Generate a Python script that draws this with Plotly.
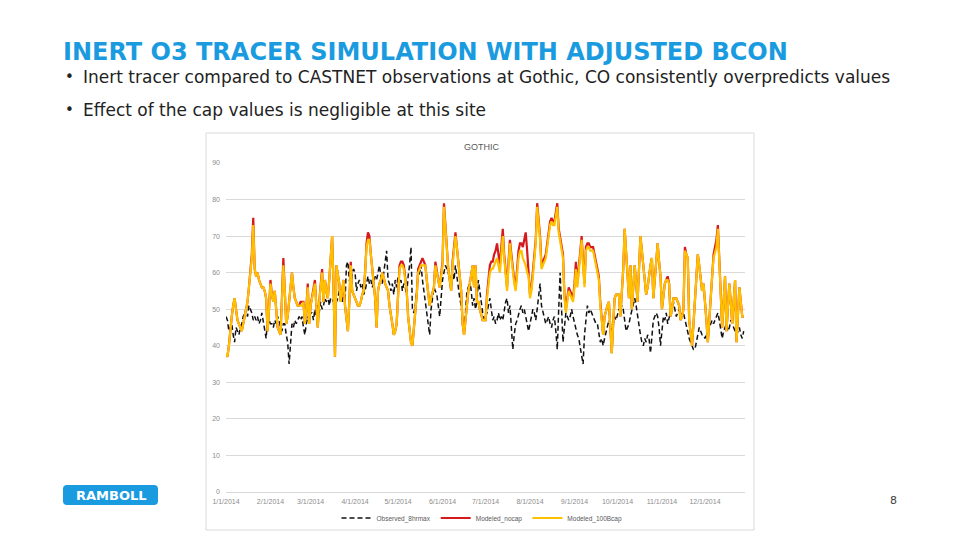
import pandas as pd
import plotly.graph_objects as go

# ---------------- DATA ----------------
observed_8hrmax = [
    48,47,44,45,46,43,41,45,44,43,45,46,48,49,50,48,51,50,49,47,
    48,47,48,46,47,49,47,45,42,48,47,46,46,45,47,46,48,47,45,44,
    46,46,43,41,35,42,46,45,47,46,47,48,47,48,45,43,46,48,47,49,
    49,47,50,48,51,49,52,50,51,53,52,54,51,53,53,52,54,52,53,55,
    54,52,56,52,62,63,58,56,60,61,60,55,57,58,56,57,54,55,57,59,
    57,58,56,57,59,58,60,62,59,57,60,63,66,58,57,55,57,54,58,56,
    59,57,58,55,57,56,54,59,62,67,50,49,51,55,59,60,62,58,55,52,
    48,46,43,50,53,56,55,54,51,48,53,58,60,62,61,60,58,56,60,58,
    62,59,55,53,51,47,43,49,55,56,58,55,51,53,50,52,58,55,51,49,
    47,48,49,51,53,50,47,48,46,47,49,47,48,47,50,52,53,49,51,46,
    39,43,46,47,49,50,51,49,50,48,46,44,46,48,50,49,47,50,53,57,
    51,49,47,46,47,48,46,45,47,48,44,39,50,60,50,41,45,49,48,47,
    48,50,48,46,45,43,42,40,38,35,43,47,51,49,50,49,48,47,46,46,
    44,41,42,40,42,44,46,47,46,44,46,48,47,49,50,49,51,50,47,44,
    45,46,48,50,52,53,51,48,45,43,41,40,42,41,43,42,38,44,47,48,
    49,48,45,40,44,48,47,49,46,48,50,51,52,50,48,49,50,48,49,49,
    47,46,44,42,41,40,39,39,41,43,45,44,43,43,42,43,44,45,46,47,
    46,47,48,49,47,44,42,44,45,46,44,45,47,46,45,44,43,44,45,43,
    42,44,
]

modeled_nocap = [
    38,37,40,45,48,51,53,50,47,46,45,44,46,48,50,52,56,61,65,75,
    61,59,60,58,57,56,56,55,53,44,50,58,54,52,55,50,45,44,43,53,
    64,55,46,48,52,56,60,56,53,52,51,51,52,52,52,46,50,57,46,51,
    53,55,58,51,45,52,57,61,52,58,55,53,58,64,70,56,37,62,60,57,
    52,55,58,51,48,44,52,63,55,54,53,52,51,51,52,54,55,60,68,71,
    70,65,61,57,53,45,55,57,58,60,58,57,56,55,51,49,46,43,44,46,
    54,62,63,63,62,58,55,48,44,41,40,44,48,54,61,62,63,64,63,62,
    58,55,51,53,55,56,63,60,58,56,59,63,79,73,66,61,58,55,63,68,
    71,67,63,58,55,46,43,47,52,55,57,60,62,56,62,52,52,50,48,47,
    47,47,54,59,62,63,63,65,66,68,64,62,67,72,65,60,56,63,69,65,
    61,58,56,62,66,68,68,67,69,71,66,61,54,56,60,64,69,79,74,70,
    62,63,64,65,68,72,74,75,74,74,77,79,72,70,67,65,54,50,53,56,
    55,54,53,57,63,57,61,65,70,63,57,67,68,68,67,67,67,65,63,61,
    59,52,47,43,48,50,51,52,45,38,46,53,54,54,54,48,54,61,72,65,
    60,53,62,50,56,62,57,52,61,70,66,62,56,54,56,60,62,64,53,58,
    63,68,63,59,50,54,57,58,59,57,48,50,53,53,53,52,51,47,48,50,
    67,65,64,47,43,40,46,52,58,65,62,59,55,57,53,47,41,48,55,59,
    65,67,69,73,62,53,45,52,59,44,50,57,52,46,52,58,41,48,56,52,
    48,48,
]

modeled_100bcap = [
    38,37,40,45,48,51,53,50,47,46,45,44,46,48,50,52,56,60,64,73,
    61,59,60,58,57,56,56,55,53,44,50,57,54,52,55,50,45,44,43,52,
    62,55,46,48,52,56,60,56,53,52,51,51,51,51,52,46,50,56,46,51,
    53,55,57,51,45,52,56,60,52,58,55,53,58,64,70,56,37,62,60,57,
    52,55,58,51,48,44,52,62,55,54,53,52,51,51,52,54,55,60,67,69,
    69,65,61,57,53,45,55,57,58,60,58,57,56,55,51,49,46,43,44,46,
    53,61,62,62,61,58,55,48,44,41,40,44,48,54,60,61,62,62,62,62,
    58,55,51,53,55,56,62,60,58,56,59,62,78,72,66,61,58,55,62,67,
    70,67,63,58,55,46,43,47,52,55,57,60,62,56,62,52,52,50,48,47,
    47,47,53,57,60,61,61,62,63,64,62,60,65,70,64,59,55,62,68,64,
    60,57,55,60,64,66,66,64,63,62,60,59,53,55,59,63,68,78,73,69,
    61,62,63,64,67,71,73,74,73,73,76,78,71,69,66,64,53,49,52,55,
    54,53,52,56,61,56,60,64,69,62,56,66,67,67,66,66,66,64,62,60,
    58,51,47,43,48,50,51,52,45,38,46,53,54,54,54,48,54,61,72,65,
    60,53,62,50,56,62,57,52,61,70,66,62,56,54,56,60,62,64,53,58,
    63,68,63,59,50,54,57,58,58,57,48,50,53,53,53,52,51,47,48,50,
    66,65,64,47,43,40,46,52,58,65,62,59,55,57,53,47,41,48,55,59,
    64,66,67,72,62,53,45,52,59,44,50,57,52,46,52,58,41,48,56,52,
    48,48,
]

dates = pd.date_range("2014-01-01", periods=len(observed_8hrmax), freq="D")

series_names = ["Observed_8hrmax", "Modeled_nocap", "Modeled_100Bcap"]
month_ticks = ["2014-01-01", "2014-02-01", "2014-03-01", "2014-04-01", "2014-05-01", "2014-06-01",
               "2014-07-01", "2014-08-01", "2014-09-01", "2014-10-01", "2014-11-01", "2014-12-01"]
tick_labels = ["1/1/2014", "2/1/2014", "3/1/2014", "4/1/2014", "5/1/2014", "6/1/2014",
               "7/1/2014", "8/1/2014", "9/1/2014", "10/1/2014", "11/1/2014", "12/1/2014"]

slide_title = "INERT O3 TRACER SIMULATION WITH ADJUSTED BCON"
bullets = ["Inert tracer compared to CASTNET observations at Gothic, CO consistently overpredicts values",
           "Effect of the cap values is negligible at this site"]
chart_title = "GOTHIC"
page_number = "8"
logo_text = "RAMBOLL"

# ---------------- FIGURE ----------------
W, H = 960, 540
OX, OY = 8, 8  # page body margin: screen pixel -> figure pixel

def px(x):
    return (x - OX) / W

def py(y):
    return (H - (y - OY)) / H

fig = go.Figure()
fig.add_trace(go.Scatter(x=dates, y=observed_8hrmax, name=series_names[0], mode="lines",
                         line=dict(color="#111111", width=1.5, dash="5px,3px")))
fig.add_trace(go.Scatter(x=dates, y=modeled_nocap, name=series_names[1], mode="lines",
                         line=dict(color="#D7191C", width=2.2)))
fig.add_trace(go.Scatter(x=dates, y=modeled_100bcap, name=series_names[2], mode="lines",
                         line=dict(color="#FFC000", width=2.2)))

axis_font = dict(family="Liberation Sans", size=7, color="#8C8C8C")

fig.update_layout(
    width=W, height=H,
    margin=dict(l=0, r=0, t=0, b=0, pad=0, autoexpand=False),
    paper_bgcolor="white", plot_bgcolor="white",
    showlegend=True,
    legend=dict(orientation="h", x=px(482), xanchor="center", y=py(518), yanchor="middle",
                font=dict(family="Liberation Sans", size=6.5, color="#595959"),
                itemwidth=30, tracegroupgap=0, bgcolor="rgba(0,0,0,0)"),
    xaxis=dict(domain=[px(226), px(745)], type="date", automargin=False,
               range=["2014-01-01", "2014-12-28 22:00"],
               tickvals=month_ticks, ticktext=tick_labels,
               tickfont=axis_font, showgrid=False, zeroline=False,
               showline=False, ticks="", ticklabelstandoff=4),
    yaxis=dict(domain=[py(492), py(163)], range=[0, 90], dtick=10, automargin=False,
               tickfont=axis_font, showgrid=True, gridcolor="#D9D9D9", gridwidth=1,
               zeroline=True, zerolinecolor="#D9D9D9", zerolinewidth=1,
               showline=False, ticks="", ticklabelstandoff=5),
)

# chart frame
fig.add_shape(type="rect", xref="paper", yref="paper",
              x0=px(206), x1=px(754), y0=py(530), y1=py(133),
              line=dict(color="#D9D9D9", width=1), fillcolor="rgba(0,0,0,0)", layer="below")

# chart title
fig.add_annotation(text=chart_title, xref="paper", yref="paper", x=px(481), y=py(147),
                   showarrow=False, xanchor="center", yanchor="middle",
                   font=dict(family="Liberation Sans", size=9, color="#595959"))

# slide title
fig.add_annotation(text="<b>" + slide_title + "</b>", xref="paper", yref="paper",
                   x=px(61), y=py(52), showarrow=False, xanchor="left", yanchor="middle",
                   font=dict(family="DejaVu Sans", size=24, color="#1A9BE0"))

# bullets
for b, yy in zip(bullets, [77, 110]):
    fig.add_annotation(text="•", xref="paper", yref="paper", x=px(63), y=py(yy),
                       showarrow=False, xanchor="left", yanchor="middle",
                       font=dict(family="DejaVu Sans", size=15, color="#222222"))
    fig.add_annotation(text=b, xref="paper", yref="paper", x=px(81), y=py(yy),
                       showarrow=False, xanchor="left", yanchor="middle",
                       font=dict(family="DejaVu Sans", size=17, color="#222222"))

# logo
x0, x1, y0, y1, r = 63, 158, 485, 505, 4
path = (f"M {px(x0+r)},{py(y0)} L {px(x1-r)},{py(y0)} Q {px(x1)},{py(y0)} {px(x1)},{py(y0+r)} "
        f"L {px(x1)},{py(y1-r)} Q {px(x1)},{py(y1)} {px(x1-r)},{py(y1)} "
        f"L {px(x0+r)},{py(y1)} Q {px(x0)},{py(y1)} {px(x0)},{py(y1-r)} "
        f"L {px(x0)},{py(y0+r)} Q {px(x0)},{py(y0)} {px(x0+r)},{py(y0)} Z")
fig.add_shape(type="path", path=path, xref="paper", yref="paper",
              fillcolor="#1A9BE0", line=dict(width=0))
fig.add_annotation(text="<b>" + logo_text + "</b>", xref="paper", yref="paper",
                   x=px(111), y=py(495), showarrow=False, xanchor="center", yanchor="middle",
                   font=dict(family="DejaVu Sans", size=13, color="white"))

# page number
fig.add_annotation(text=page_number, xref="paper", yref="paper", x=px(893), y=py(500),
                   showarrow=False, xanchor="center", yanchor="middle",
                   font=dict(family="DejaVu Sans", size=11, color="#404040"))

fig.write_html("out.html")
